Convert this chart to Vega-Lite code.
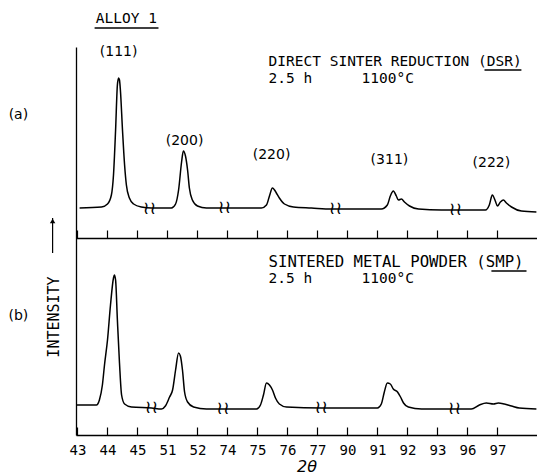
{
  "$schema": "https://vega.github.io/schema/vega-lite/v6.json",
  "width": 461,
  "height": 388,
  "autosize": {"type": "none"},
  "padding": {"left": 76, "top": 47, "right": 0, "bottom": 41},
  "background": "white",
  "config": {
    "view": {"stroke": null},
    "font": "DejaVu Sans",
    "axis": {"grid": false, "domainColor": "black", "tickColor": "black", "labelColor": "black", "titleColor": "black"}
  },
  "datasets": {
    "curveA": [
      {"pos": 0.07, "y": 30}, {"pos": 0.8, "y": 31}, {"pos": 1.0, "y": 34}, {"pos": 1.13, "y": 43},
      {"pos": 1.2, "y": 63}, {"pos": 1.27, "y": 108}, {"pos": 1.33, "y": 153}, {"pos": 1.37, "y": 160},
      {"pos": 1.4, "y": 158}, {"pos": 1.43, "y": 148}, {"pos": 1.5, "y": 108}, {"pos": 1.57, "y": 73},
      {"pos": 1.63, "y": 53}, {"pos": 1.73, "y": 40}, {"pos": 1.87, "y": 34}, {"pos": 2.13, "y": 31},
      {"pos": 2.47, "y": 30}, {"pos": 3.13, "y": 30}, {"pos": 3.27, "y": 34}, {"pos": 3.37, "y": 48},
      {"pos": 3.47, "y": 76}, {"pos": 3.53, "y": 87}, {"pos": 3.6, "y": 82}, {"pos": 3.67, "y": 68},
      {"pos": 3.73, "y": 50}, {"pos": 3.83, "y": 38}, {"pos": 4.0, "y": 32}, {"pos": 4.3, "y": 30},
      {"pos": 6.13, "y": 30}, {"pos": 6.3, "y": 33}, {"pos": 6.4, "y": 42}, {"pos": 6.5, "y": 50},
      {"pos": 6.57, "y": 48}, {"pos": 6.63, "y": 45}, {"pos": 6.73, "y": 40}, {"pos": 6.9, "y": 34},
      {"pos": 7.2, "y": 31}, {"pos": 7.8, "y": 30}, {"pos": 8.47, "y": 29}, {"pos": 10.13, "y": 29},
      {"pos": 10.33, "y": 33}, {"pos": 10.43, "y": 42}, {"pos": 10.53, "y": 47}, {"pos": 10.63, "y": 42},
      {"pos": 10.7, "y": 38}, {"pos": 10.8, "y": 39}, {"pos": 10.9, "y": 36}, {"pos": 11.07, "y": 32},
      {"pos": 11.37, "y": 29}, {"pos": 12.13, "y": 28}, {"pos": 13.6, "y": 28}, {"pos": 13.73, "y": 33},
      {"pos": 13.83, "y": 43}, {"pos": 13.93, "y": 37}, {"pos": 14.0, "y": 32}, {"pos": 14.1, "y": 36},
      {"pos": 14.2, "y": 38}, {"pos": 14.3, "y": 35}, {"pos": 14.47, "y": 31}, {"pos": 14.8, "y": 27},
      {"pos": 15.3, "y": 26}
    ],
    "curveB": [
      {"pos": -0.05, "y": 30}, {"pos": 0.63, "y": 30}, {"pos": 0.73, "y": 35}, {"pos": 0.83, "y": 50},
      {"pos": 0.9, "y": 70}, {"pos": 1.0, "y": 95}, {"pos": 1.1, "y": 130}, {"pos": 1.2, "y": 157},
      {"pos": 1.23, "y": 160}, {"pos": 1.27, "y": 155}, {"pos": 1.33, "y": 115}, {"pos": 1.4, "y": 72},
      {"pos": 1.47, "y": 40}, {"pos": 1.57, "y": 31}, {"pos": 1.8, "y": 28}, {"pos": 2.47, "y": 27},
      {"pos": 2.8, "y": 26}, {"pos": 2.93, "y": 29}, {"pos": 3.07, "y": 38}, {"pos": 3.17, "y": 45},
      {"pos": 3.27, "y": 65}, {"pos": 3.37, "y": 82}, {"pos": 3.43, "y": 79}, {"pos": 3.5, "y": 65},
      {"pos": 3.57, "y": 43}, {"pos": 3.67, "y": 33}, {"pos": 3.87, "y": 28}, {"pos": 4.3, "y": 26},
      {"pos": 5.97, "y": 26}, {"pos": 6.1, "y": 30}, {"pos": 6.2, "y": 40}, {"pos": 6.3, "y": 52},
      {"pos": 6.4, "y": 50}, {"pos": 6.5, "y": 45}, {"pos": 6.6, "y": 37}, {"pos": 6.73, "y": 31},
      {"pos": 6.97, "y": 28}, {"pos": 8.13, "y": 27}, {"pos": 10.0, "y": 27}, {"pos": 10.13, "y": 31},
      {"pos": 10.23, "y": 43}, {"pos": 10.33, "y": 52}, {"pos": 10.43, "y": 51}, {"pos": 10.53, "y": 46},
      {"pos": 10.67, "y": 43}, {"pos": 10.77, "y": 38}, {"pos": 10.87, "y": 32}, {"pos": 11.03, "y": 28},
      {"pos": 11.47, "y": 26}, {"pos": 13.13, "y": 26}, {"pos": 13.4, "y": 30}, {"pos": 13.63, "y": 32},
      {"pos": 13.87, "y": 31}, {"pos": 14.03, "y": 32}, {"pos": 14.23, "y": 31}, {"pos": 14.47, "y": 29},
      {"pos": 14.73, "y": 27}, {"pos": 15.3, "y": 26}
    ],
    "breaksA": [{"pos": 2.4, "y": 29}, {"pos": 4.9, "y": 30}, {"pos": 8.6, "y": 29}, {"pos": 12.6, "y": 28}],
    "breaksB": [{"pos": 2.47, "y": 27}, {"pos": 4.85, "y": 26}, {"pos": 8.13, "y": 27}, {"pos": 12.57, "y": 26}],
    "peaksA": [
      {"pos": 1.37, "y": 186, "label": "(111)"},
      {"pos": 3.57, "y": 97, "label": "(200)"},
      {"pos": 6.47, "y": 83, "label": "(220)"},
      {"pos": 10.4, "y": 78, "label": "(311)"},
      {"pos": 13.8, "y": 75, "label": "(222)"}
    ],
    "panelA": [{"pos": -1.97, "y": 123, "label": "(a)"}],
    "panelB": [{"pos": -1.97, "y": 119, "label": "(b)"}],
    "titleA": [{"pos": 1.63, "y": 219, "label": "ALLOY 1"}],
    "notesA": [
      {"pos": 6.37, "y": 176.5, "label": "DIRECT SINTER REDUCTION (DSR)"},
      {"pos": 6.37, "y": 159, "label": "2.5 h"},
      {"pos": 9.47, "y": 159, "label": "1100°C"}
    ],
    "notesB1": [{"pos": 6.37, "y": 173, "label": "SINTERED METAL POWDER (SMP)"}],
    "notesB2": [
      {"pos": 6.37, "y": 156, "label": "2.5 h"},
      {"pos": 9.47, "y": 156, "label": "1100°C"}
    ],
    "underA": [
      {"pos": 0.57, "pos2": 2.7, "y": 210},
      {"pos": 13.57, "pos2": 14.8, "y": 168}
    ],
    "underB": [{"pos": 13.8, "pos2": 14.97, "y": 164}],
    "ylabel": [{"pos": -0.8, "y": 118, "label": "INTENSITY"}],
    "arrow": [{"pos": -0.83, "y": 182, "y2": 217}],
    "arrowHead": [{"pos": -0.83, "y": 214}]
  },
  "resolve": {"scale": {"x": "independent", "y": "independent"}},
  "layer": [
    {
      "encoding": {
        "x": {
          "field": "pos", "type": "quantitative",
          "scale": {"domain": [-0.05, 15.32], "zero": false, "nice": false},
          "axis": {"orient": "bottom", "offset": -197, "values": [0,1,2,3,4,5,6,7,8,9,10,11,12,13,14], "tickSize": -8, "labels": false, "title": null, "domainWidth": 1.3, "tickWidth": 1.2}
        },
        "y": {
          "field": "y", "type": "quantitative",
          "scale": {"domain": [-197, 191], "zero": false, "nice": false},
          "axis": null
        }
      },
      "layer": [
        {"data": {"name": "curveA"}, "mark": {"type": "line", "color": "black", "strokeWidth": 1.5, "interpolate": "monotone"}},
        {"data": {"name": "breaksA"}, "mark": {"type": "text", "text": "≀≀", "font": "DejaVu Sans", "fontSize": 18, "color": "black", "baseline": "middle", "align": "center"}},
        {"data": {"name": "peaksA"}, "mark": {"type": "text", "fontSize": 14, "color": "black", "align": "center", "baseline": "middle"}, "encoding": {"text": {"field": "label"}}},
        {"data": {"name": "panelA"}, "mark": {"type": "text", "fontSize": 14, "color": "black", "align": "center", "baseline": "middle"}, "encoding": {"text": {"field": "label"}}},
        {"data": {"name": "titleA"}, "mark": {"type": "text", "font": "DejaVu Sans Mono", "fontSize": 14.5, "color": "black", "align": "center", "baseline": "middle"}, "encoding": {"text": {"field": "label"}}},
        {"data": {"name": "notesA"}, "mark": {"type": "text", "font": "DejaVu Sans Mono", "fontSize": 14.5, "color": "black", "align": "left", "baseline": "middle"}, "encoding": {"text": {"field": "label"}}},
        {"data": {"name": "underA"}, "mark": {"type": "rule", "color": "black", "strokeWidth": 1.3}, "encoding": {"x2": {"field": "pos2"}}}
      ]
    },
    {
      "encoding": {
        "x": {
          "field": "pos", "type": "quantitative",
          "scale": {"domain": [-0.05, 15.32], "zero": false, "nice": false},
          "axis": {
            "orient": "bottom", "values": [0,1,2,3,4,5,6,7,8,9,10,11,12,13,14], "tickSize": -8,
            "labelExpr": "['43','44','45','51','52','74','75','76','77','90','91','92','93','96','97'][datum.value]",
            "labelFont": "DejaVu Sans Mono", "labelFontSize": 14, "labelPadding": 16, "labelFlush": false,
            "title": "2θ", "titleFont": "DejaVu Sans", "titleFontSize": 16, "titleFontStyle": "italic", "titleFontWeight": "normal", "titlePadding": 1,
            "domainWidth": 1.3, "tickWidth": 1.2
          }
        },
        "y": {
          "field": "y", "type": "quantitative",
          "scale": {"domain": [0, 388], "zero": false, "nice": false},
          "axis": {"orient": "left", "ticks": false, "labels": false, "title": null, "domainWidth": 1.3}
        }
      },
      "layer": [
        {"data": {"name": "curveB"}, "mark": {"type": "line", "color": "black", "strokeWidth": 1.5, "interpolate": "monotone"}},
        {"data": {"name": "breaksB"}, "mark": {"type": "text", "text": "≀≀", "font": "DejaVu Sans", "fontSize": 18, "color": "black", "baseline": "middle", "align": "center"}},
        {"data": {"name": "panelB"}, "mark": {"type": "text", "fontSize": 14, "color": "black", "align": "center", "baseline": "middle"}, "encoding": {"text": {"field": "label"}}},
        {"data": {"name": "notesB1"}, "mark": {"type": "text", "font": "DejaVu Sans Mono", "fontSize": 15.7, "color": "black", "align": "left", "baseline": "middle"}, "encoding": {"text": {"field": "label"}}},
        {"data": {"name": "notesB2"}, "mark": {"type": "text", "font": "DejaVu Sans Mono", "fontSize": 14.5, "color": "black", "align": "left", "baseline": "middle"}, "encoding": {"text": {"field": "label"}}},
        {"data": {"name": "underB"}, "mark": {"type": "rule", "color": "black", "strokeWidth": 1.3}, "encoding": {"x2": {"field": "pos2"}}},
        {"data": {"name": "ylabel"}, "mark": {"type": "text", "font": "DejaVu Sans Mono", "fontSize": 15, "angle": 270, "color": "black", "align": "center", "baseline": "middle"}, "encoding": {"text": {"field": "label"}}},
        {"data": {"name": "arrow"}, "mark": {"type": "rule", "color": "black", "strokeWidth": 1.2}, "encoding": {"y2": {"field": "y2"}}},
        {"data": {"name": "arrowHead"}, "mark": {"type": "point", "shape": "triangle-up", "filled": true, "size": 30, "color": "black", "opacity": 1}}
      ]
    }
  ]
}
